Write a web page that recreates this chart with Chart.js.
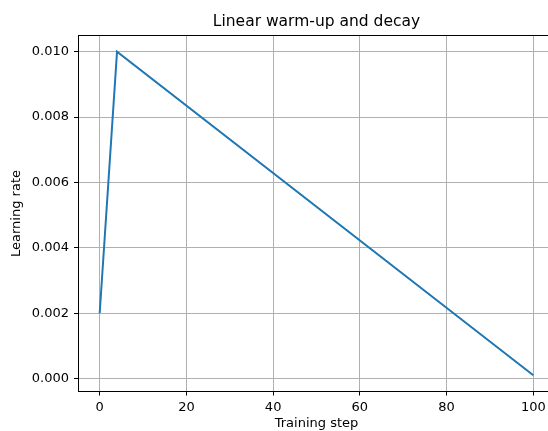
<!DOCTYPE html>
<html>
<head>
<meta charset="utf-8">
<script src="https://cdn.jsdelivr.net/npm/chart.js@4/dist/chart.umd.min.js"></script>
<style>
  html, body { margin: 0; padding: 0; background: #fff; overflow: hidden; width: 548px; height: 431px; }
  #wrap { width: 548px; height: 431px; overflow: hidden; position: relative; }
  canvas { display: block; }
</style>
</head>
<body>
<div id="wrap"><canvas id="c" width="600" height="431"></canvas></div>
<script>
// Data
const steps = [0, 4, 100];
const learningRates = [0.002, 0.010, 0.0001];
const xTickValues = [0, 20, 40, 60, 80, 100];
const yTickValues = [0.000, 0.002, 0.004, 0.006, 0.008, 0.010];
const chartTitle = 'Linear warm-up and decay';
const xAxisTitle = 'Training step';
const yAxisTitle = 'Learning rate';

const FONT = "'DejaVu Sans', sans-serif";
Chart.defaults.color = '#000';
Chart.defaults.font.family = FONT;

const points = steps.map((s, i) => ({ x: s, y: learningRates[i] }));

const topSpine = {
  id: 'topSpine',
  afterDraw(chart) {
    const { ctx, chartArea } = chart;
    ctx.save();
    ctx.strokeStyle = '#000';
    ctx.lineWidth = 1;
    ctx.beginPath();
    ctx.moveTo(chartArea.left, chartArea.top);
    ctx.lineTo(chartArea.right, chartArea.top);
    ctx.stroke();
    ctx.restore();
  }
};

new Chart(document.getElementById('c'), {
  type: 'line',
  data: {
    datasets: [{
      data: points,
      borderColor: '#1f77b4',
      borderWidth: 2,
      pointRadius: 0,
      tension: 0,
      fill: false
    }]
  },
  options: {
    responsive: false,
    animation: false,
    devicePixelRatio: 1,
    layout: { padding: { left: 0, right: 45, top: 0, bottom: 0 } },
    plugins: {
      legend: { display: false },
      tooltip: { enabled: false },
      title: {
        display: true,
        fullSize: false,
        text: chartTitle,
        color: '#000',
        font: { family: FONT, size: 15.5, weight: 'normal', lineHeight: 1.2 },
        padding: { top: 13, bottom: 3.9 }
      }
    },
    scales: {
      x: {
        type: 'linear',
        min: -5,
        max: 105,
        afterBuildTicks(scale) { scale.ticks = xTickValues.map(v => ({ value: v })); },
        afterFit(scale) { scale.height = 39.5; },
        ticks: {
          font: { family: FONT, size: 13 },
          color: '#000',
          padding: 4,
          maxRotation: 0,
          autoSkip: false,
          callback: v => String(v)
        },
        grid: { color: '#b0b0b0', lineWidth: 1, tickColor: '#000', tickLength: 4, tickWidth: 1 },
        border: { display: true, color: '#000', width: 1 },
        title: {
          display: true,
          text: xAxisTitle,
          color: '#000',
          font: { family: FONT, size: 13, lineHeight: 1.2 },
          padding: { top: 0, bottom: 0 }
        }
      },
      y: {
        type: 'linear',
        min: -0.000395,
        max: 0.010495,
        afterBuildTicks(scale) { scale.ticks = yTickValues.map(v => ({ value: v })); },
        afterFit(scale) { scale.width = 78; },
        ticks: {
          font: { family: FONT, size: 13 },
          color: '#000',
          padding: 5,
          autoSkip: false,
          callback: v => Number(v).toFixed(3)
        },
        grid: { color: '#b0b0b0', lineWidth: 1, tickColor: '#000', tickLength: 4, tickWidth: 1 },
        border: { display: true, color: '#000', width: 1 },
        title: {
          display: true,
          text: yAxisTitle,
          color: '#000',
          font: { family: FONT, size: 13, lineHeight: 1.2 },
          padding: { top: 9, bottom: 0 }
        }
      }
    }
  },
  plugins: [topSpine]
});
</script>
</body>
</html>
